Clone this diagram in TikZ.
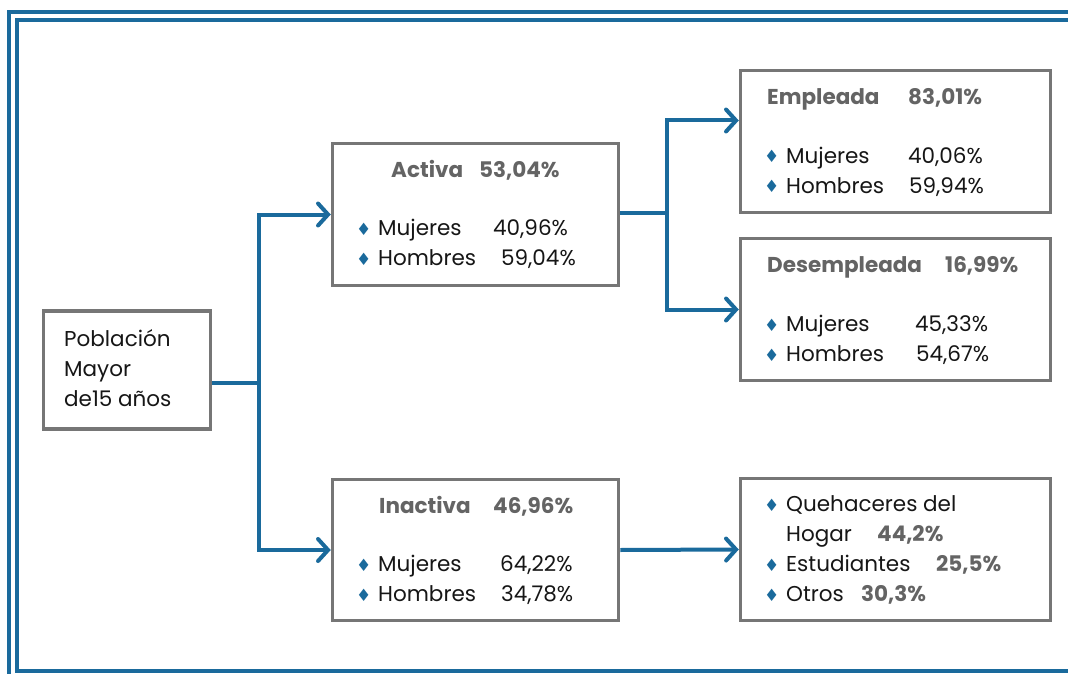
\documentclass[tikz,border=0pt]{standalone}
\usepackage{fontspec}
\setmainfont{Poppins}
\newfontfamily\dejavu{DejaVu Sans}
\usetikzlibrary{arrows.meta}

\definecolor{azul}{RGB}{26,106,156}
\definecolor{grisbox}{RGB}{118,118,118}
\definecolor{gristit}{RGB}{100,100,100}
\definecolor{texto}{RGB}{22,22,22}

\newcommand{\rombo}{\makebox[22pt][l]{\color{azul}\dejavu\fontsize{17}{30}\selectfont\raisebox{0.5pt}{♦}}}
\newcommand{\itm}[3]{\rombo\makebox[#1pt][l]{#2}#3}
\newcommand{\tit}[3]{\makebox[#1pt][l]{#2}#3}
\newcommand{\pct}[1]{{\color{gristit}\bfseries #1}}

\begin{document}
\begin{tikzpicture}[x=1pt,y=-1pt,
  caja/.style={draw=grisbox,line width=3.5pt,fill=white,inner sep=0pt},
  titulo/.style={anchor=west,inner sep=0pt,text=gristit,
    font=\fontsize{21.5}{30}\selectfont\bfseries},
  lista/.style={anchor=west,inner sep=0pt,align=left,text=texto,
    font=\fontsize{21.5}{30}\selectfont},
  conn/.style={draw=azul,line width=4pt},
  flecha/.style={conn,-{Straight Barb[length=10pt,width=22pt,line cap=round]}},
  marco/.style={draw=azul,line width=4pt}]
\clip (0,0) rectangle (1068,674);
% marco doble
\draw[marco] (9,12) rectangle (1090,700);
\draw[marco] (17,20) rectangle (1075,671);

% cajas
\node[caja,minimum width=167pt,minimum height=118pt] (pob) at (127,370) {};
\node[caja,minimum width=286pt,minimum height=142pt] (act) at (475.5,214.5) {};
\node[caja,minimum width=286pt,minimum height=141pt] (inact) at (475.5,550) {};
\node[caja,minimum width=310pt,minimum height=142pt] (emp) at (895.5,141.5) {};
\node[caja,minimum width=310pt,minimum height=142pt] (desemp) at (895.5,309.5) {};
\node[caja,minimum width=310pt,minimum height=142pt] (queh) at (895.5,549.5) {};

% textos
\node[lista] (pob-t) at (64,368) {Población\\Mayor\\de15 años};

\node[titulo] (act-t) at (391,170) {\tit{88}{Activa}{53,04\%}};
\node[lista] (act-l) at (356,244) {\itm{115}{Mujeres}{40,96\%}\\\itm{123}{Hombres}{59,04\%}};

\node[titulo] (inact-t) at (379,506) {\tit{114}{Inactiva}{46,96\%}};
\node[lista] (inact-l) at (356,580) {\itm{122}{Mujeres}{64,22\%}\\\itm{123}{Hombres}{34,78\%}};

\node[titulo] (emp-t) at (767,99) {\tit{141}{Empleada}{83,01\%}};
\node[lista] (emp-l) at (764,171.5) {\itm{122}{Mujeres}{40,06\%}\\\itm{123}{Hombres}{59,94\%}};

\node[titulo] (desemp-t) at (767,267) {\tit{178}{Desempleada}{16,99\%}};
\node[lista] (desemp-l) at (764,340) {\itm{129}{Mujeres}{45,33\%}\\\itm{130}{Hombres}{54,67\%}};

\node[lista] (queh-l) at (764,550) {\rombo Quehaceres del\\\hspace*{22pt}\makebox[91pt][l]{Hogar}\pct{44,2\%}\\
  \rombo\makebox[150pt][l]{Estudiantes}\pct{25,5\%}\\\rombo\makebox[75pt][l]{Otros}\pct{30,3\%}};

% conectores
\draw[conn] ([yshift=-13pt]pob.east) -- ++(47,0) coordinate (b1);
\draw[flecha] (b1) |- (act.west);
\draw[flecha] (b1) |- (inact.west);
\draw[conn] ([yshift=1.5pt]act.east) -- ++(47,0) coordinate (b2);
\draw[flecha] (b2) |- ([yshift=21pt]emp.west);
\draw[flecha] (b2) |- (desemp.west);
\draw[flecha] (inact.east) -- (queh.west);
\end{tikzpicture}
\end{document}
